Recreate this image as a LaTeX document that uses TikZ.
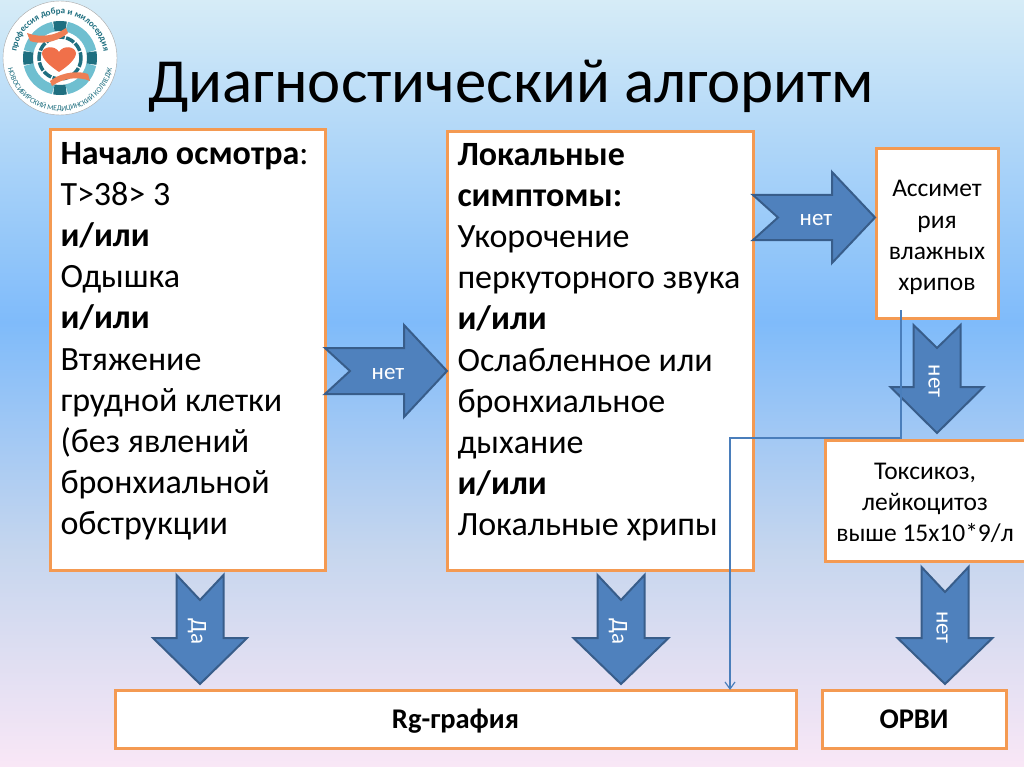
\documentclass[tikz,border=0pt]{standalone}
\usepackage{fontspec}
\setmainfont{Carlito}
\usetikzlibrary{positioning, calc, arrows.meta, decorations.text}
\definecolor{boxline}{HTML}{F49A52}
\definecolor{arrowfill}{HTML}{4F81BD}
\definecolor{arrowline}{HTML}{385D8A}
\definecolor{linkline}{HTML}{4A7EBB}
\definecolor{tealdark}{HTML}{1F6F80}
\definecolor{teallight}{HTML}{6FBFD0}
\definecolor{heartfill}{HTML}{F0704A}
\definecolor{handfill}{HTML}{EE7F55}
\definecolor{bga}{HTML}{D6ECF7}
\definecolor{bgb}{HTML}{7FBBFA}
\definecolor{bgc}{HTML}{C6D6EE}
\definecolor{bgd}{HTML}{F9E7F6}
\pgfdeclareverticalshading{slidebg}{100bp}{
  color(0bp)=(bgd);
  color(25bp)=(bgd);
  color(39bp)=(bgc);
  color(54bp)=(bgb);
  color(75bp)=(bga);
  color(100bp)=(bga)
}
\begin{document}
\begin{tikzpicture}[
    x = 1pt, y = -1pt,
    box/.style = {
      rectangle, draw = boxline, line width = 3pt, fill = white,
      inner xsep = 10pt, inner ysep = 0pt, outer sep = 0pt
    },
    bigbox/.style = {
      box, align = flush left, font = \fontsize{34}{41.2}\selectfont
    },
    smallbox/.style = {
      box, align = flush center, inner xsep = 2pt, font = \fontsize{25.5}{31.3}\selectfont
    },
    resultbox/.style = {
      box, align = flush center, text height = 20pt, text depth = 2pt,
      font = \fontsize{28.5}{32}\selectfont\bfseries
    },
    link/.style = {
      draw = linkline, line width = 1.2pt
    },
    pics/blockarrow/.style n args = {6}{
      code = {
        \draw [fill = arrowfill, draw = arrowline, line width = 2pt, line join = miter]
          (0, -#3/2) -- (#1-#4, -#3/2) -- (#1-#4, -#2/2) -- (#1, 0)
          -- (#1-#4, #2/2) -- (#1-#4, #3/2) -- (0, #3/2) -- (#5, 0) -- cycle;
        \node [transform shape, text = white, font = \fontsize{23}{24}\selectfont]
          at (#1/2+2, 3) {#6};
      }
    },
    ]

    % background
    \useasboundingbox (0, 0) rectangle (1024, 767);
    \shade [shading = slidebg] (0, 0) rectangle (1024, 767);

    % logo
    \node [circle, draw = black!35, fill = white, minimum size = 114pt, inner sep = 0pt] (logo) at (60, 58) {};
    \foreach \a in {0, 90, 180, 270}
    \draw [teallight, line width = 10pt] (logo.center) ++(\a+12:32) arc [start angle = \a+12, end angle = \a+78, radius = 32];
    \foreach \a in {0, 90, 180, 270}
    \draw [tealdark, line width = 10pt] (logo.center) ++(\a-11:32) arc [start angle = \a-11, end angle = \a+11, radius = 32];
    \draw [tealdark, line width = 3.5pt, dash pattern = on 9pt off 1.5pt] (logo.center) circle [radius = 21];
    \fill [handfill] (27, 33) .. controls (40, 38) and (55, 36) .. (66, 28) -- (68, 33) .. controls (55, 44) and (38, 44) .. (30, 41) -- cycle;
    \fill [handfill] (90, 81) .. controls (78, 76) and (63, 78) .. (52, 86) -- (50, 81) .. controls (63, 71) and (80, 71) .. (88, 74) -- cycle;
    \fill [heartfill] (59, 72) .. controls (50, 66) and (42, 59) .. (42, 53) .. controls (43, 46) and (55, 45) .. (59, 52)
      .. controls (63, 45) and (75, 46) .. (76, 53) .. controls (76, 59) and (68, 66) .. (59, 72) -- cycle;
    \path [decorate, decoration = {text along path, text align = center,
        text = {|\fontsize{9}{10}\selectfont\bfseries\color{tealdark}|профессия добра и милосердия}}]
      (logo.center) ++(180:44) arc [start angle = 180, end angle = 360, radius = 44];
    \path [decorate, decoration = {text along path, text align = center,
        text = {|\fontsize{7.5}{8}\selectfont\color{tealdark}|НОВОСИБИРСКИЙ МЕДИЦИНСКИЙ КОЛЛЕДЖ}}]
      (logo.center) ++(170:53) arc [start angle = 170, end angle = 10, radius = 53];

    % title
    \node (title) at (511, 86) {\fontsize{62.8}{70}\selectfont Диагностический алгоритм};

    % boxes
    \node [bigbox, text width = 255pt, minimum height = 440pt] (exam) at (188, 350) {%
      \textbf{Начало осмотра}:\\T>38> 3\\\textbf{и/или}\\Одышка\\\textbf{и/или}\\Втяжение\\грудной клетки\\(без явлений\\бронхиальной\\обструкции\\[-18pt]~};
    \node [bigbox, text width = 286pt, minimum height = 438pt] (symptoms) at (600.5, 351) {%
      \textbf{Локальные}\\\textbf{симптомы:}\\Укорочение\\перкуторного звука\\\textbf{и/или}\\Ослабленное или\\бронхиальное\\дыхание\\\textbf{и/или}\\Локальные хрипы\\[-18pt]~};
    \node [smallbox, text width = 118pt, minimum height = 169pt] (asym) at (937, 233.5) {\rule{0pt}{25pt}Ассимет\\рия\\влажных\\хрипов};
    \node [smallbox, text width = 196pt, minimum height = 121pt] (toxic) at (925, 500.5) {\rule{0pt}{21pt}Токсикоз,\\лейкоцитоз\\выше 15х10*9/л};
    \node [resultbox, minimum width = 681pt, minimum height = 58pt] (xray) at (455.5, 719) {Rg-графия};
    \node [resultbox, minimum width = 184pt, minimum height = 58pt] (ari) at (914, 719) {ОРВИ};

    % block arrows
    \pic at (325, 371) {blockarrow = {122}{92}{46}{43}{25}{нет}};
    \pic at (753, 217.5) {blockarrow = {122}{91}{45}{43}{25}{нет}};
    \pic [rotate = -90] at (937, 325) {blockarrow = {108}{93}{47}{46}{23}{нет}};
    \pic [rotate = -90] at (200, 575) {blockarrow = {109}{94}{47}{46}{25}{Да}};
    \pic [rotate = -90] at (621, 575) {blockarrow = {109}{95}{47}{46}{25}{Да}};
    \pic [rotate = -90] at (945, 567) {blockarrow = {117}{95}{47}{46}{25}{нет}};

    % thin link from the asymmetry box down to the x-ray box
    \coordinate (linkstart) at (901, 310);
    \coordinate (linkbend) at (901, 438);
    \coordinate (linkturn) at (730, 438);
    \coordinate (linkend) at (730, 690);
    \draw [link, -{Straight Barb[length = 7pt, width = 10pt]}] (linkstart) -- (linkbend) -- (linkturn) -- (linkend);
\end{tikzpicture}
\end{document}
